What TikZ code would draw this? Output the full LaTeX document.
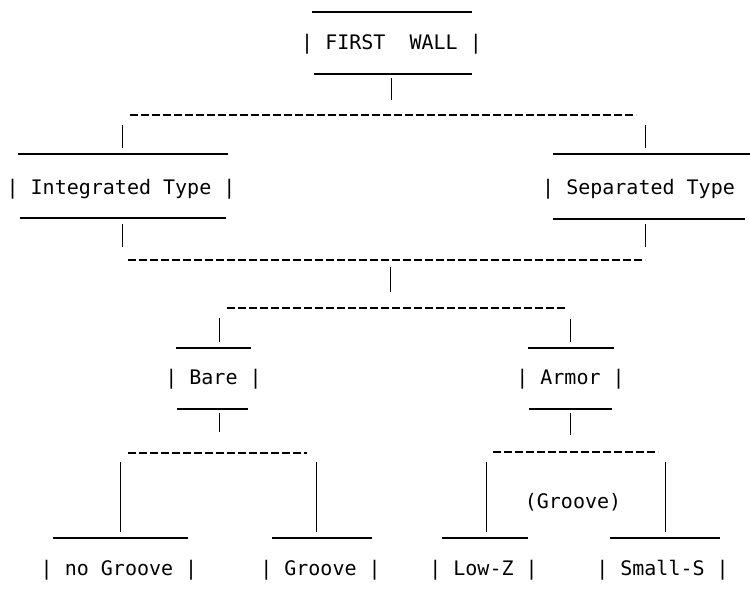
\documentclass[tikz,border=0pt]{standalone}
\usepackage{fontspec}
\newfontfamily\plotfont{DejaVu Sans Mono}
\begin{document}
\begin{tikzpicture}[x=1pt,y=-1pt,
  rule/.style={line width=1.2pt},
  vrule/.style={line width=1.0pt},
  dashline/.style={line width=1.1pt, dash pattern=on 8pt off 3pt},
  lbl/.style={font=\plotfont\fontsize{20}{24}\selectfont, inner sep=0pt}]
\useasboundingbox (0,0) rectangle (750,599);
% text nodes
\node[lbl] (fw)   at (391.5,44)  {|\ FIRST\ \ WALL\ |};
\node[lbl] (int)  at (121,189)   {| Integrated Type |};
\node[lbl,anchor=west] (sep) at (542,189) {| Separated Type};
\node[lbl] (bare) at (213.5,379) {| Bare |};
\node[lbl] (arm)  at (570.5,379) {| Armor |};
\node[lbl] (nog)  at (119,570)   {| no Groove |};
\node[lbl] (gro)  at (320.5,570) {| Groove |};
\node[lbl] (lowz) at (483.5,570) {| Low-Z |};
\node[lbl] (sms)  at (662.5,570) {| Small-S |};
\node[lbl] (grv)  at (573,502)   {(Groove)};
% coordinates
\coordinate (fwTl) at (312,12);  \coordinate (fwTr) at (472,12);
\coordinate (fwBl) at (314,74);  \coordinate (fwBr) at (472,74);
\coordinate (fwV1) at (391,78);  \coordinate (fwV2) at (391,100);
\coordinate (d1l) at (130,115);  \coordinate (d1r) at (636,115);
\coordinate (iV1) at (122,125);  \coordinate (iV2) at (122,148);
\coordinate (iTl) at (18,154);   \coordinate (iTr) at (228,154);
\coordinate (iBl) at (20,218);   \coordinate (iBr) at (226,218);
\coordinate (iV3) at (122,224);  \coordinate (iV4) at (122,247);
\coordinate (sV1) at (645,125);  \coordinate (sV2) at (645,148);
\coordinate (sTl) at (553,154);  \coordinate (sTr) at (750,154);
\coordinate (sBl) at (553,219);  \coordinate (sBr) at (745,219);
\coordinate (sV3) at (645,224);  \coordinate (sV4) at (645,247);
\coordinate (d2l) at (128,260);  \coordinate (d2r) at (645,260);
\coordinate (cV1) at (390,267);  \coordinate (cV2) at (390,292);
\coordinate (d3l) at (227,308);  \coordinate (d3r) at (565,308);
\coordinate (bV1) at (219,318);  \coordinate (bV2) at (219,342);
\coordinate (bTl) at (176,348);  \coordinate (bTr) at (251,348);
\coordinate (bBl) at (177,409);  \coordinate (bBr) at (248,409);
\coordinate (bV3) at (219,413);  \coordinate (bV4) at (219,432);
\coordinate (aV1) at (570,319);  \coordinate (aV2) at (570,342);
\coordinate (aTl) at (528,348);  \coordinate (aTr) at (614,348);
\coordinate (aBl) at (529,409);  \coordinate (aBr) at (612,409);
\coordinate (aV3) at (570,413);  \coordinate (aV4) at (570,435);
\coordinate (d4l) at (128,453);  \coordinate (d4r) at (307,453);
\coordinate (nV1) at (120,462);  \coordinate (nV2) at (120,532);
\coordinate (gV1) at (316,462);  \coordinate (gV2) at (316,532);
\coordinate (nTl) at (53,538);   \coordinate (nTr) at (188,538);
\coordinate (gTl) at (272,538);  \coordinate (gTr) at (372,538);
\coordinate (d5l) at (493,452);  \coordinate (d5r) at (658,452);
\coordinate (lV1) at (486,462);  \coordinate (lV2) at (486,532);
\coordinate (mV1) at (665,462);  \coordinate (mV2) at (665,532);
\coordinate (lTl) at (442,538);  \coordinate (lTr) at (528,538);
\coordinate (mTl) at (610,538);  \coordinate (mTr) at (720,538);
% lines
\draw[rule] (fwTl) -- (fwTr);
\draw[rule] (fwBl) -- (fwBr);
\draw[vrule] (fwV1) -- (fwV2);
\draw[dashline] (d1l) -- (d1r);
\draw[vrule] (iV1) -- (iV2);
\draw[rule] (iTl) -- (iTr);
\draw[rule] (iBl) -- (iBr);
\draw[vrule] (iV3) -- (iV4);
\draw[vrule] (sV1) -- (sV2);
\draw[rule] (sTl) -- (sTr);
\draw[rule] (sBl) -- (sBr);
\draw[vrule] (sV3) -- (sV4);
\draw[dashline] (d2l) -- (d2r);
\draw[vrule] (cV1) -- (cV2);
\draw[dashline] (d3l) -- (d3r);
\draw[vrule] (bV1) -- (bV2);
\draw[rule] (bTl) -- (bTr);
\draw[rule] (bBl) -- (bBr);
\draw[vrule] (bV3) -- (bV4);
\draw[vrule] (aV1) -- (aV2);
\draw[rule] (aTl) -- (aTr);
\draw[rule] (aBl) -- (aBr);
\draw[vrule] (aV3) -- (aV4);
\draw[dashline] (d4l) -- (d4r);
\draw[vrule] (nV1) -- (nV2);
\draw[vrule] (gV1) -- (gV2);
\draw[rule] (nTl) -- (nTr);
\draw[rule] (gTl) -- (gTr);
\draw[dashline] (d5l) -- (d5r);
\draw[vrule] (lV1) -- (lV2);
\draw[vrule] (mV1) -- (mV2);
\draw[rule] (lTl) -- (lTr);
\draw[rule] (mTl) -- (mTr);
\end{tikzpicture}
\end{document}
